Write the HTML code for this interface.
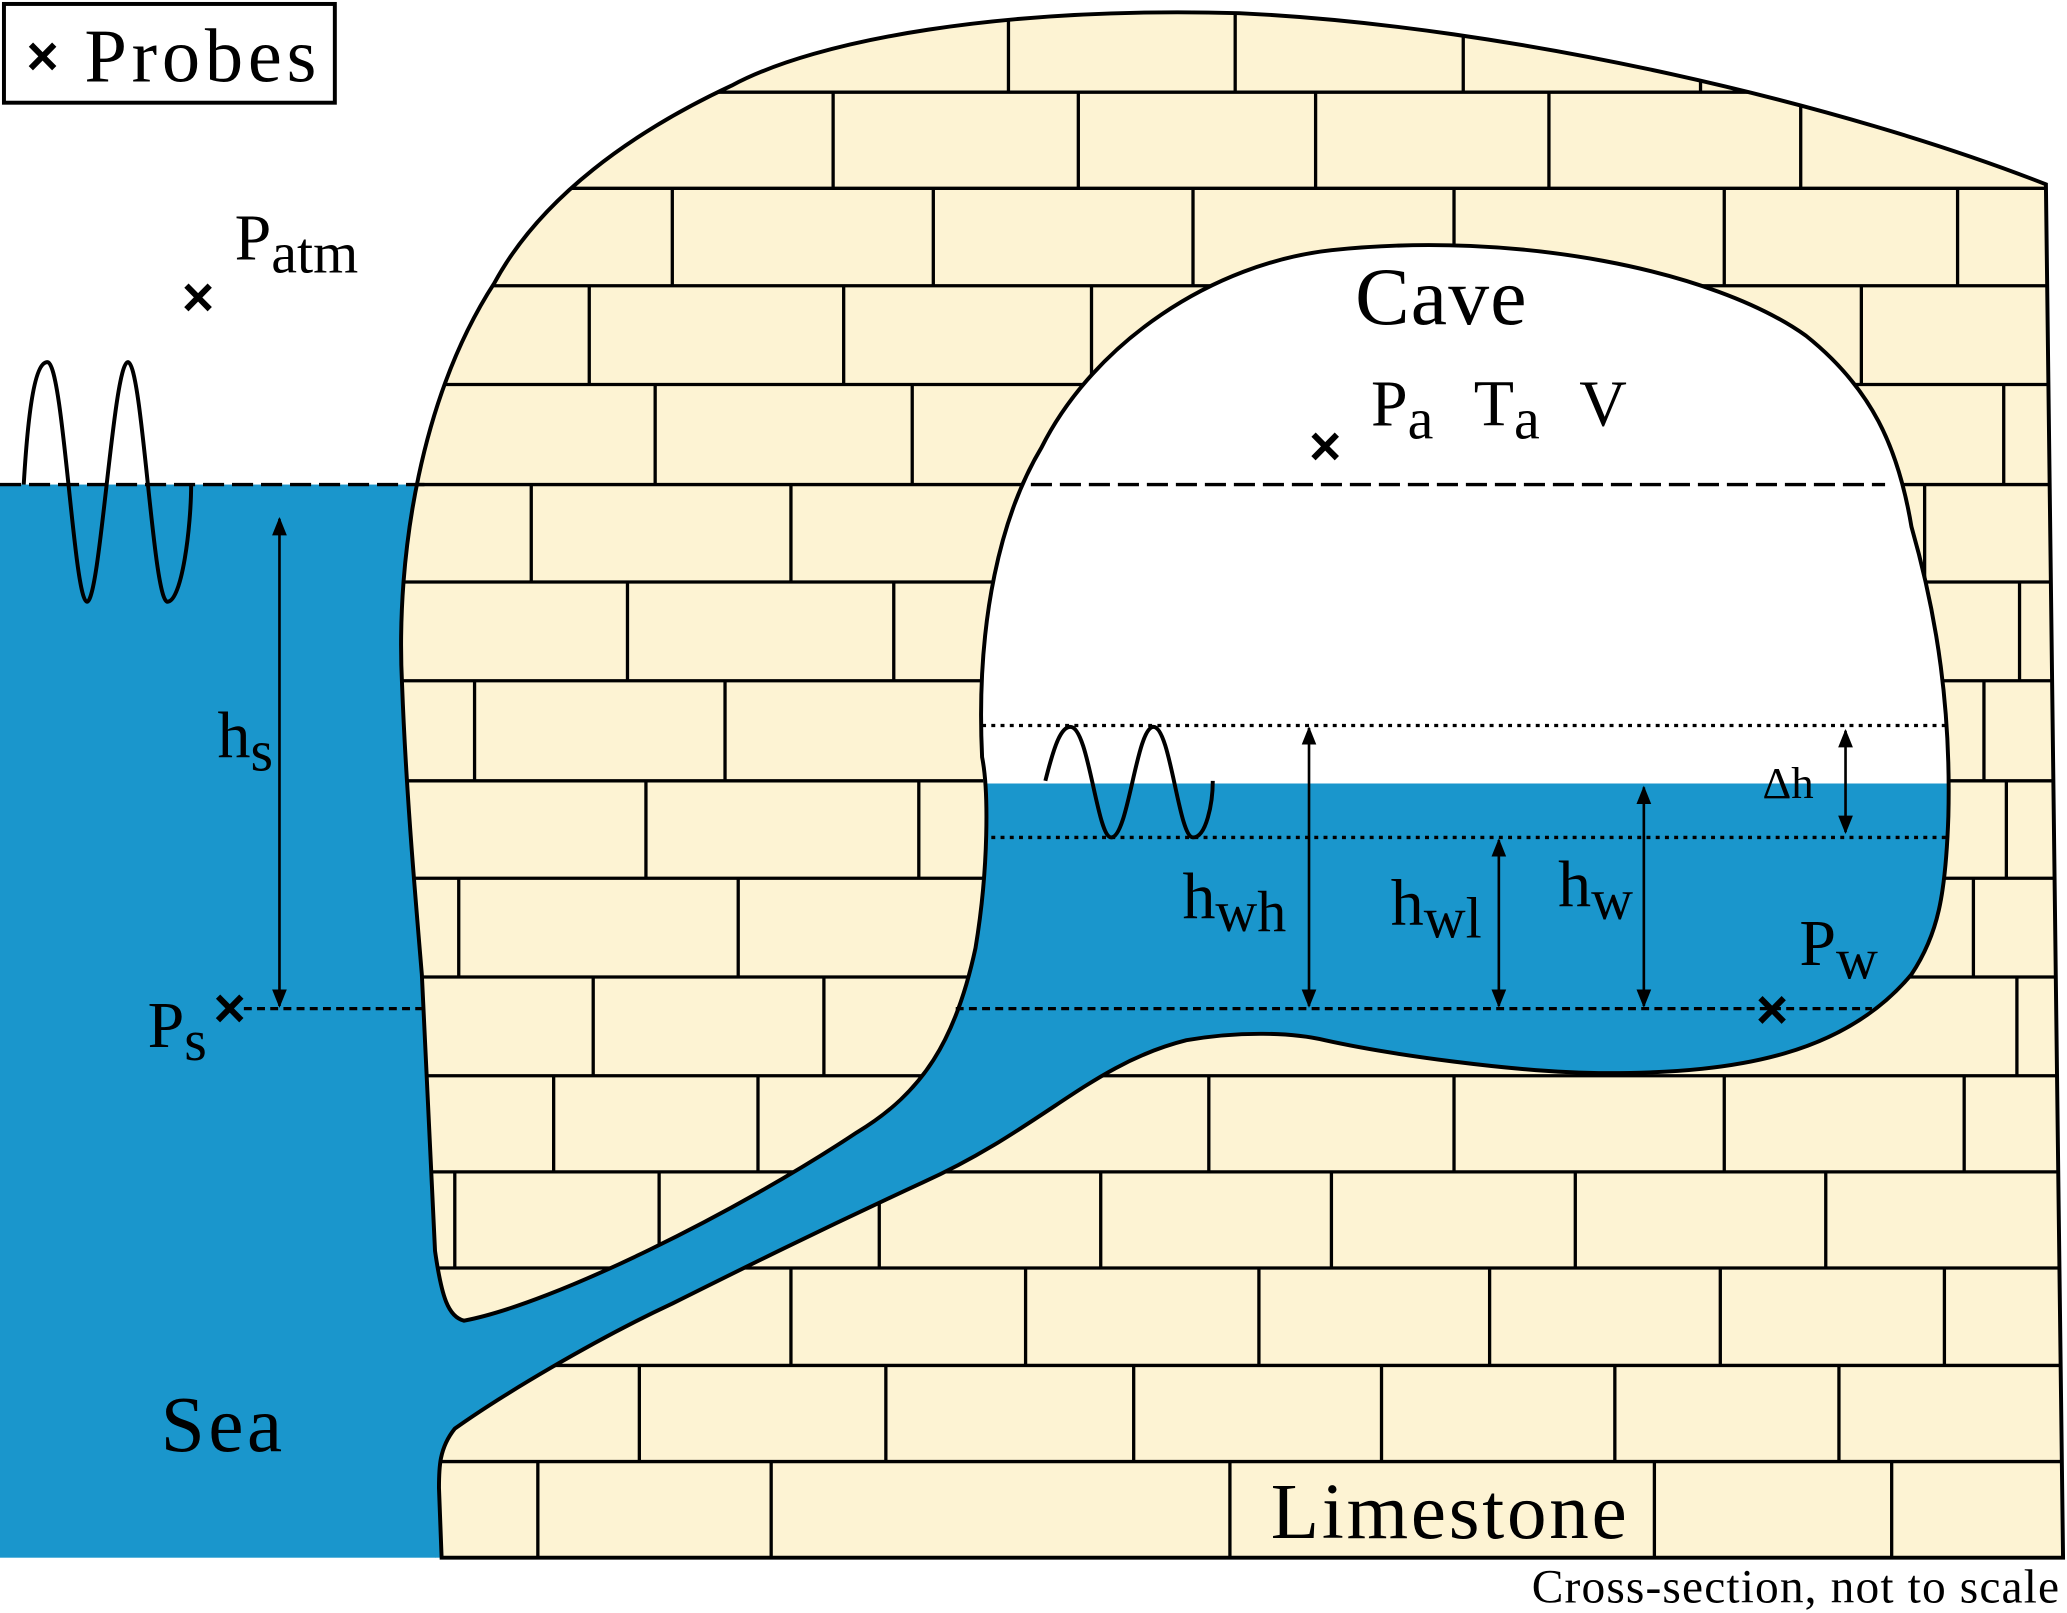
<!DOCTYPE html>
<html><head><meta charset="utf-8"><style>
html,body{margin:0;padding:0;background:#fff;}
svg{display:block;}
text{font-family:"Liberation Serif",serif;fill:#000;}
text.x{font-family:"Liberation Sans",sans-serif;font-weight:bold;}
</style></head><body>
<svg width="2067" height="1613" viewBox="0 0 1568 1225" preserveAspectRatio="none" xmlns="http://www.w3.org/2000/svg">
<defs>
<marker id="ah" viewBox="0 0 10 10" refX="9" refY="5" markerWidth="7" markerHeight="7" orient="auto-start-reverse"><path d="M0,1 L10,5 L0,9 z" fill="#000"/></marker>
<clipPath id="lc"><path id="lsp" d="M375,215 C320,300 300,420 305,520 C308,600 315,680 320,740 L330,950 C335,985 340,1000 352,1003 C420,990 560,920 650,860 C700,830 725,790 740,720 C750,660 750,600 745,575 C740,470 760,390 790,340 C830,260 920,200 1010,190 C1150,175 1300,205 1370,255 C1420,295 1440,340 1450,400 C1470,470 1480,540 1478,620 C1476,680 1470,710 1450,740 C1400,800 1320,815 1220,815 C1150,815 1050,800 1005,790 C980,784 940,783 900,790 C860,800 830,820 800,840 C770,860 740,880 700,898 C620,935 560,965 510,990 C450,1018 380,1060 345,1085 C333,1100 333,1115 333,1130 L335,1183 L1565,1183 L1552,140 C1400,80 1150,20 940,10 C760,5 620,30 555,65 C480,100 410,150 375,215 Z"/></clipPath>
</defs>
<rect x="0" y="368" width="342" height="815" fill="#1a96cc"/>
<polygon points="330,995 700,800 740,595 1490,595 1490,830 330,1183" fill="#1a96cc"/>
<use href="#lsp" fill="#fdf3d3"/>
<g clip-path="url(#lc)" stroke="#000" stroke-width="2.5">
<line x1="0" y1="70" x2="1568" y2="70"/><line x1="0" y1="143" x2="1568" y2="143"/><line x1="0" y1="217" x2="1568" y2="217"/><line x1="0" y1="292" x2="1568" y2="292"/><line x1="0" y1="368" x2="1568" y2="368"/><line x1="0" y1="442" x2="1568" y2="442"/><line x1="0" y1="517" x2="1568" y2="517"/><line x1="0" y1="593" x2="1568" y2="593"/><line x1="0" y1="667" x2="1568" y2="667"/><line x1="0" y1="742" x2="1568" y2="742"/><line x1="0" y1="817" x2="1568" y2="817"/><line x1="0" y1="890" x2="1568" y2="890"/><line x1="0" y1="963" x2="1568" y2="963"/><line x1="0" y1="1037" x2="1568" y2="1037"/><line x1="0" y1="1110" x2="1568" y2="1110"/>
<path d="M765,0V70M937,0V70M1110,0V70M1290,0V70
M632,70V143M818,70V143M998,70V143M1175,70V143M1366,70V143
M510,143V217M708,143V217M905,143V217M1103,143V217M1308,143V217M1485,143V217
M447,217V292M640,217V292M828,217V292M1222,217V292M1412,217V292
M497,292V368M692,292V368M1338,292V368M1520,292V368
M403,368V442M600,368V442M1460,368V442
M476,442V517M678,442V517M1532,442V517
M360,517V593M550,517V593M1505,517V593
M490,593V667M697,593V667M1522,593V667
M348,667V742M560,667V742M1497,667V742
M450,742V817M625,742V817M1530,742V817
M420,817V890M575,817V890M917,817V890M1103,817V890M1308,817V890M1490,817V890
M345,890V963M500,890V963M667,890V963M835,890V963M1010,890V963M1195,890V963M1385,890V963
M600,963V1037M778,963V1037M955,963V1037M1130,963V1037M1305,963V1037M1475,963V1037
M485,1037V1110M672,1037V1110M860,1037V1110M1048,1037V1110M1225,1037V1110M1395,1037V1110
M408,1110V1183M585,1110V1183M933,1110V1183M1255,1110V1183M1435,1110V1183"/>
</g>
<path d="M745,575 C740,470 760,390 790,340 C830,260 920,200 1010,190 C1150,175 1300,205 1370,255 C1420,295 1440,340 1450,400 C1470,470 1480,540 1478,595 L746,595 Z" fill="#fff"/>
<use href="#lsp" fill="none" stroke="#000" stroke-width="3"/>
<g stroke="#000" fill="none">
<line x1="0" y1="368" x2="322" y2="368" stroke-width="2.5" stroke-dasharray="16,6"/>
<line x1="782" y1="368" x2="1430" y2="368" stroke-width="2.5" stroke-dasharray="16,6"/>
<line x1="745" y1="551" x2="1478" y2="551" stroke-width="2.5" stroke-dasharray="3,4"/>
<line x1="752" y1="636" x2="1478" y2="636" stroke-width="2.5" stroke-dasharray="3,4"/>
<line x1="185" y1="766" x2="320" y2="766" stroke-width="2.5" stroke-dasharray="6,4"/>
<line x1="725" y1="766" x2="1420" y2="766" stroke-width="2.5" stroke-dasharray="6,4"/>
<path d="M18,368 C22,300 28,275 36,275 C48,275 56,457 66,457 C76,457 86,275 97,275 C108,275 116,457 127,457 C138,457 145,400 145,368" stroke-width="3"/>
<path d="M793,593 C800,565 805,552 812,552 C826,552 832,636 843,636 C856,636 862,552 875,552 C888,552 894,636 905,636 C915,636 920,610 920,593" stroke-width="3"/>
<g stroke-width="2" marker-start="url(#ah)" marker-end="url(#ah)">
<line x1="212" y1="394" x2="212" y2="764"/>
<line x1="993" y1="553" x2="993" y2="764"/>
<line x1="1137" y1="638" x2="1137" y2="764"/>
<line x1="1247" y1="598" x2="1247" y2="764"/>
<line x1="1400" y1="555" x2="1400" y2="632"/>
</g>
</g>
<rect x="3" y="3" width="251" height="75" fill="#fff" stroke="#000" stroke-width="3"/>
<text class="x" x="20" y="57" font-size="42">×</text>
<text class="x" x="138" y="240" font-size="42">×</text>
<text class="x" x="993" y="353" font-size="42">×</text>
<text class="x" x="162" y="780" font-size="42">×</text>
<text class="x" x="1332" y="781" font-size="42">×</text>
<text x="64" y="62" font-size="58" textLength="176">Probes</text>
<text x="178" y="197" font-size="50">P<tspan font-size="44" dy="10">atm</tspan></text>
<text x="1028" y="246" font-size="62" textLength="130">Cave</text>
<text x="1040" y="323" font-size="50">P<tspan font-size="44" dy="10">a</tspan></text>
<text x="1118" y="323" font-size="50">T<tspan font-size="44" dy="10">a</tspan></text>
<text x="1198" y="323" font-size="50">V</text>
<text x="165" y="575" font-size="50">h<tspan font-size="44" dy="10">s</tspan></text>
<text x="112" y="795" font-size="50">P<tspan font-size="44" dy="10">s</tspan></text>
<text x="897" y="697" font-size="50">h<tspan font-size="44" dy="10">wh</tspan></text>
<text x="1055" y="702" font-size="50">h<tspan font-size="44" dy="10">wl</tspan></text>
<text x="1182" y="688" font-size="50">h<tspan font-size="44" dy="10">w</tspan></text>
<text x="1337" y="606" font-size="34">Δh</text>
<text x="1365" y="733" font-size="50">P<tspan font-size="44" dy="10">w</tspan></text>
<text x="122" y="1102" font-size="60" textLength="92">Sea</text>
<text x="964" y="1168" font-size="60" textLength="270">Limestone</text>
<text x="1162" y="1217" font-size="36" textLength="400">Cross-section, not to scale</text>
</svg>
</body></html>
